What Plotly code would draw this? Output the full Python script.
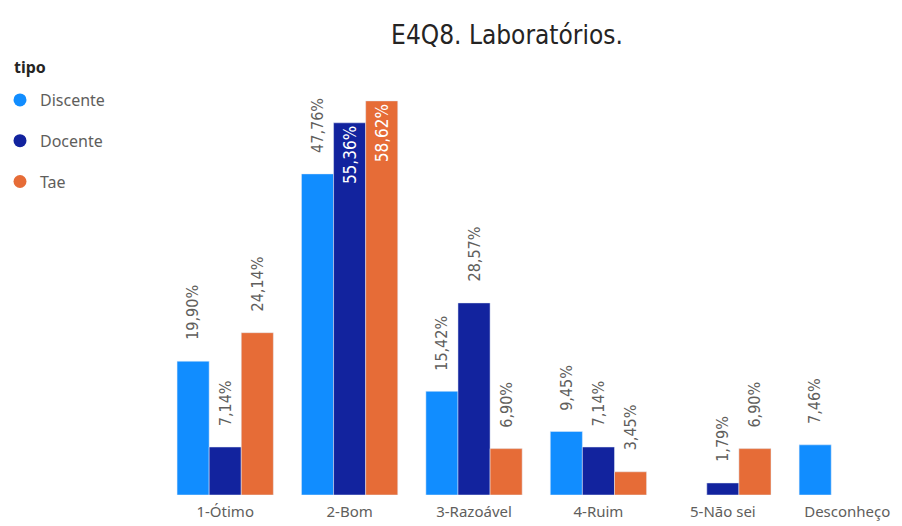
import plotly.graph_objects as go

categories = ["1-Ótimo", "2-Bom", "3-Razoável", "4-Ruim", "5-Não sei", "Desconheço"]
series_names = ["Discente", "Docente", "Tae"]
discente = [19.90, 47.76, 15.42, 9.45, None, 7.46]
docente = [7.14, 55.36, 28.57, 7.14, 1.79, None]
tae = [24.14, 58.62, 6.90, 3.45, 6.90, None]
colors = ["#118DFF", "#12239E", "#E66C37"]
inside_threshold = 50  # labels of bars above this are drawn inside

series = [discente, docente, tae]

# page body has an 8px margin; figure is sized so it ends at the window edge
W, H = 894, 518
L, T, B = 155, 52, 31
PW = W - L
PH = H - T - B

fig = go.Figure()
label_font = "DejaVu Sans Condensed, Liberation Sans Narrow, sans-serif"
ui_font = "Noto Sans, Open Sans, sans-serif"

nbars = 3
bargap = 0.226
slot = (1 - bargap) / nbars

annotations = []
for i, (name, vals, col) in enumerate(zip(series_names, series, colors)):
    texts = []
    for v in vals:
        if v is not None and v > inside_threshold and i > 0:
            texts.append(f"{v:.2f}%".replace(".", ","))
        else:
            texts.append("")
    fig.add_trace(go.Bar(
        x=categories, y=vals, name=name, marker_color=col, showlegend=False,
        text=texts, textposition="inside", insidetextanchor="end",
        textangle=-90, constraintext="none",
        textfont=dict(family=label_font, size=17, color="white"),
        hoverinfo="skip",
    ))
    offset = (i - (nbars - 1) / 2) * slot
    for j, v in enumerate(vals):
        if v is None or texts[j]:
            continue
        annotations.append(dict(
            x=j + offset, y=v, xref="x", yref="y",
            text=f"{v:.2f}%".replace(".", ","), showarrow=False,
            textangle=-90, xanchor="center", yanchor="bottom", yshift=19,
            font=dict(family=label_font, size=16, color="#605E5C"),
        ))
    fig.add_trace(go.Scatter(
        x=[None], y=[None], mode="markers", name=name,
        marker=dict(symbol="circle", size=13, color=col),
        legendgroup=name, showlegend=True,
    ))

# legend title as annotation
annotations.append(dict(
    x=(4 - L) / PW, y=1 + (T - (67 - 8)) / PH, xref="paper", yref="paper",
    text="<b>tipo</b>", showarrow=False, xanchor="left", yanchor="middle",
    font=dict(family=ui_font, size=16, color="#252423"),
))

fig.update_layout(
    width=W, height=H,
    margin=dict(l=L, r=0, t=T, b=B, autoexpand=False),
    paper_bgcolor="white", plot_bgcolor="white",
    barmode="group", bargap=bargap, bargroupgap=0,
    title=dict(text="E4Q8. Laboratórios.", x=499 / W, xanchor="center",
               y=1 - 27 / H, yanchor="middle",
               font=dict(family=label_font, size=26, color="#252423")),
    legend=dict(
        xref="paper", yref="paper", x=(-8 - L) / PW, y=1 - (75 - T) / PH,
        xanchor="left", yanchor="top",
        font=dict(family=ui_font, size=16, color="#605E5C"),
        tracegroupgap=17, itemwidth=30,
    ),
    xaxis=dict(
        type="category", range=[-0.5, 5.44],
        showgrid=False, showline=False, zeroline=False, ticks="",
        ticklabelstandoff=6,
        tickfont=dict(family=ui_font, size=15, color="#605E5C"),
    ),
    yaxis=dict(range=[0, 64.7], visible=False),
    annotations=annotations,
)

fig.write_html("out.html")
